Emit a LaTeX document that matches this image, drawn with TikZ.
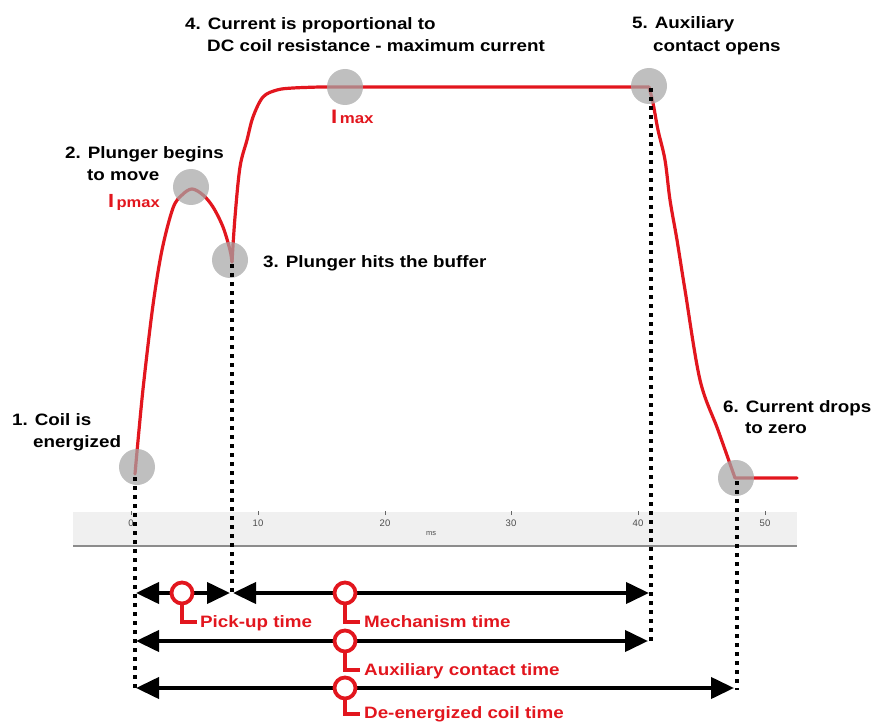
\documentclass[tikz,border=0pt]{standalone}
\usepackage{fontspec}
\setmainfont{Liberation Sans}
\newfontfamily\lab[FakeStretch=1.14]{Liberation Sans}
\usetikzlibrary{arrows.meta}
\definecolor{myred}{RGB}{226,22,30}
\definecolor{bandgray}{RGB}{240,240,240}
\tikzset{
  lbl/.style={inner sep=0pt, anchor=base west, font=\lab\bfseries\fontsize{16.5}{20}\selectfont, text=black},
  rlbl/.style={lbl, text=myred},
  marker/.style={circle, fill=black!35, fill opacity=0.72, minimum size=36pt, inner sep=0pt},
  dotline/.style={line width=4pt, dash pattern=on 4pt off 5pt},
  curve/.style={myred, line width=3.2pt, line join=round, line cap=round},
  span/.style={line width=4pt, {Triangle[length=23pt,width=21pt]}-{Triangle[length=23pt,width=21pt]}},
  ring/.style={circle, draw=myred, line width=3.8pt, fill=white, minimum size=21pt, inner sep=0pt},
  stem/.style={myred, line width=4pt, line join=miter},
  ticklbl/.style={font=\fontsize{9.5}{10}\selectfont, text=black!70, inner sep=0pt},
  tickmark/.style={black!60, line width=0.7pt},
}
\begin{document}
\begin{tikzpicture}[x=1pt,y=-1pt]
\useasboundingbox (0,0) rectangle (873,722);
% axis band
\fill[bandgray] (73,512) rectangle (797,546);
\draw[black!45, line width=1.3pt] (73,546) -- (797,546);
\foreach \v/\x in {0/131,10/258,20/385,30/511,40/638,50/765}{
  \draw[tickmark] (\x,511) -- (\x,515);
  \node[ticklbl] (tk\v) at (\x,523) {\v};
}
\node[ticklbl, font=\fontsize{7.5}{8}\selectfont] (ms) at (431,534) {ms};
% current curve
\draw[curve] plot[smooth, tension=0.55] coordinates {(135,474) (139,430) (144,380) (153,305) (162,250) (173,208) (182,195) (192,189) (203,195) (213,207) (223,227) (230,250) (232,262)};
\draw[curve] plot[smooth, tension=0.55] coordinates {(232,262) (235,217) (240,167) (247,140) (253,117) (263,97) (277,90) (293,88) (320,87)} -- (649,87);
\draw[curve] plot[smooth, tension=0.55] coordinates {(649,87) (653,103) (658,130) (665,160) (670,200) (677,240) (685,290) (700,380) (718,430) (735,478)} -- (797,478);
% grey markers
\node[marker] (m1) at (137,467) {};
\node[marker] (m2) at (191,187) {};
\node[marker] (m3) at (230,260) {};
\node[marker] (m4) at (345,87) {};
\node[marker] (m5) at (649,86) {};
\node[marker] (m6) at (736,478) {};
% dotted guide lines
\coordinate (d1t) at (135,477); \coordinate (d1b) at (135,690);
\coordinate (d3t) at (232,264); \coordinate (d3b) at (232,596);
\coordinate (d5t) at (651,88);  \coordinate (d5b) at (651,644);
\coordinate (d6t) at (737,481); \coordinate (d6b) at (737,690);
\draw[dotline] (d1t) -- (d1b);
\draw[dotline] (d3t) -- (d3b);
\draw[dotline] (d5t) -- (d5b);
\draw[dotline] (d6t) -- (d6b);
% time spans
\coordinate (p0) at (136,593); \coordinate (p1) at (230,593);
\coordinate (q0) at (233,593); \coordinate (q1) at (649,593);
\coordinate (a0) at (136,641); \coordinate (a1) at (648,641);
\coordinate (e0) at (136,688); \coordinate (e1) at (734,688);
\draw[span] (p0) -- (p1);
\draw[span] (q0) -- (q1);
\draw[span] (a0) -- (a1);
\draw[span] (e0) -- (e1);
% red rings with stems
\node[ring] (r1) at (182,593) {};
\node[ring] (r2) at (345,593) {};
\node[ring] (r3) at (345,641) {};
\node[ring] (r4) at (345,688) {};
\coordinate (s1) at (197,622);
\coordinate (s2) at (360,622);
\coordinate (s3) at (360,670);
\coordinate (s4) at (360,714);
\draw[stem] (r1.south) |- (s1);
\draw[stem] (r2.south) |- (s2);
\draw[stem] (r3.south) |- (s3);
\draw[stem] (r4.south) |- (s4);
\node[rlbl] (l1) at (200,627) {Pick-up time};
\node[rlbl] (l2) at (364,627) {Mechanism time};
\node[rlbl] (l3) at (364,675) {Auxiliary contact time};
\node[rlbl] (l4) at (364,718) {De-energized coil time};
% black annotations
\node[lbl] (t1a) at (12,425) {1. Coil is};
\node[lbl] (t1b) at (33,447) {energized};
\node[lbl] (t2a) at (65,159) {2. Plunger begins};
\node[lbl] (t2b) at (87,181) {to move};
\node[lbl] (t3) at (263,267) {3. Plunger hits the buffer};
\node[lbl] (t4a) at (185,30) {4. Current is proportional to};
\node[lbl] (t4b) at (207,52) {DC coil resistance - maximum current};
\node[lbl] (t5a) at (632,29) {5. Auxiliary};
\node[lbl] (t5b) at (653,52) {contact opens};
\node[lbl] (t6a) at (723,412) {6. Current drops};
\node[lbl] (t6b) at (745,433) {to zero};
% red current labels
\node[rlbl] (ip) at (108,208) {{\fontsize{19}{19}\selectfont I}{\fontsize{14.5}{15}\selectfont\,pmax}};
\node[rlbl] (im) at (331,124) {{\fontsize{19.5}{19}\selectfont I}{\fontsize{14.8}{15}\selectfont\,max}};
\end{tikzpicture}
\end{document}
